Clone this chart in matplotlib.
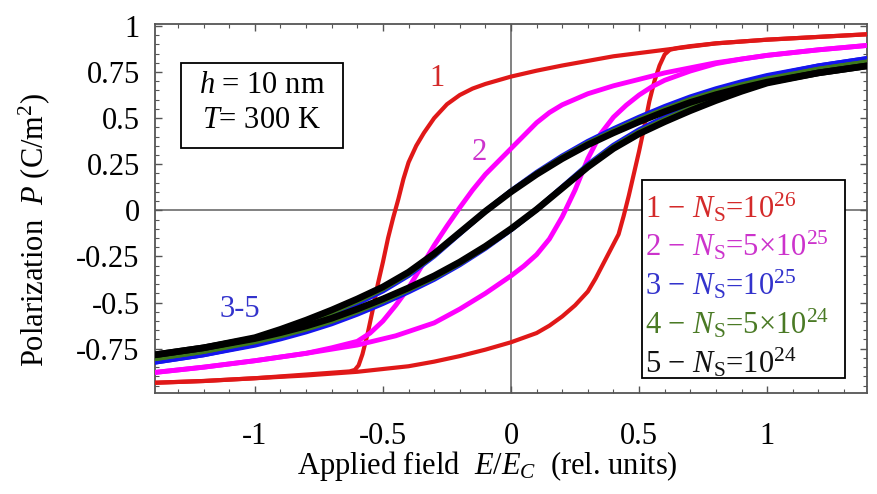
import matplotlib
matplotlib.use("Agg")
import matplotlib.pyplot as plt
from matplotlib.patches import Rectangle
from matplotlib.ticker import MultipleLocator

plt.rcParams['font.family'] = ['Liberation Serif', 'DejaVu Serif']
plt.rcParams['mathtext.fontset'] = 'custom'
plt.rcParams['mathtext.rm'] = 'Liberation Serif'
plt.rcParams['mathtext.it'] = 'Liberation Serif:italic'
plt.rcParams['axes.unicode_minus'] = False

# curve 1 (red): ascending branch (up) and descending branch (dn)
red_up_E = [-1.4, -1.2, -1.0, -0.8, -0.6, -0.4, -0.3, -0.2, -0.1, 0.0, 0.05, 0.1, 0.15,
            0.2, 0.25, 0.3, 0.33, 0.36, 0.39, 0.42, 0.44, 0.46, 0.48, 0.50, 0.52, 0.54,
            0.56, 0.58, 0.60, 0.62, 0.65, 0.7, 0.8, 1.0, 1.2, 1.4]
red_up_P = [-0.935, -0.925, -0.91, -0.895, -0.875, -0.845, -0.82, -0.79, -0.755, -0.715,
            -0.69, -0.665, -0.625, -0.575, -0.515, -0.44, -0.37, -0.29, -0.21, -0.13,
            -0.03, 0.08, 0.2, 0.32, 0.45, 0.59, 0.70, 0.785, 0.845, 0.87, 0.88, 0.89,
            0.905, 0.925, 0.94, 0.955]
red_dn_E = [1.4, 1.2, 1.0, 0.8, 0.6, 0.4, 0.2, 0.1, 0.0, -0.05, -0.1, -0.15, -0.2, -0.25,
            -0.3, -0.34, -0.37, -0.40, -0.42, -0.44, -0.46, -0.48, -0.50, -0.52, -0.54,
            -0.56, -0.58, -0.595, -0.61, -0.63, -0.7, -0.8, -1.0, -1.2, -1.4]
red_dn_P = [0.955, 0.94, 0.925, 0.905, 0.87, 0.835, 0.785, 0.757, 0.725, 0.705, 0.685,
            0.66, 0.625, 0.575, 0.50, 0.42, 0.35, 0.26, 0.17, 0.06, -0.04, -0.15, -0.28,
            -0.40, -0.54, -0.67, -0.78, -0.84, -0.865, -0.873, -0.88, -0.89, -0.91,
            -0.925, -0.935]

# curve 2 (magenta)
mag_up_E = [-1.4, -1.2, -1.0, -0.8, -0.6, -0.45, -0.3, -0.2, -0.1, 0.0, 0.05, 0.1, 0.15,
            0.2, 0.25, 0.3, 0.35, 0.4, 0.45, 0.5, 0.55, 0.6, 0.7, 0.8, 0.9, 1.0, 1.2, 1.4]
mag_up_P = [-0.88, -0.85, -0.815, -0.775, -0.73, -0.68, -0.61, -0.535, -0.45, -0.355,
            -0.302, -0.24, -0.155, -0.035, 0.11, 0.28, 0.415, 0.505, 0.57, 0.625, 0.67,
            0.705, 0.755, 0.795, 0.82, 0.84, 0.87, 0.895]
mag_dn_E = [1.4, 1.2, 1.0, 0.8, 0.6, 0.5, 0.4, 0.3, 0.2, 0.15, 0.1, 0.05, 0.0, -0.05,
            -0.1, -0.15, -0.2, -0.25, -0.3, -0.35, -0.4, -0.45, -0.5, -0.55, -0.6, -0.7,
            -0.8, -1.0, -1.2, -1.4]
mag_dn_P = [0.895, 0.87, 0.84, 0.80, 0.745, 0.71, 0.675, 0.632, 0.572, 0.53, 0.475, 0.405,
            0.335, 0.265, 0.195, 0.11, 0.015, -0.085, -0.19, -0.305, -0.42, -0.515, -0.6,
            -0.665, -0.71, -0.745, -0.775, -0.815, -0.85, -0.88]

# curves 3-5 share one field grid
E35 = [-1.4, -1.2, -1.0, -0.9, -0.8, -0.7, -0.6, -0.5, -0.4, -0.3, -0.2, -0.1, 0.0, 0.1,
       0.2, 0.3, 0.4, 0.5, 0.6, 0.7, 0.8, 0.9, 1.0, 1.2, 1.4]
blue_up = [-0.824, -0.782, -0.73, -0.696, -0.658, -0.614, -0.562, -0.504, -0.441, -0.373,
           -0.294, -0.205, -0.105, 0.005, 0.126, 0.247, 0.352, 0.436, 0.504, 0.567, 0.625,
           0.677, 0.725, 0.782, 0.824]
blue_dn = [-0.824, -0.782, -0.725, -0.677, -0.625, -0.567, -0.504, -0.436, -0.352, -0.247,
           -0.126, -0.005, 0.105, 0.205, 0.294, 0.373, 0.441, 0.504, 0.562, 0.614, 0.658,
           0.696, 0.73, 0.782, 0.824]
green_up = [-0.805, -0.764, -0.712, -0.68, -0.643, -0.6, -0.548, -0.492, -0.43, -0.364,
            -0.287, -0.2, -0.103, 0.005, 0.123, 0.241, 0.343, 0.425, 0.492, 0.553, 0.61,
            0.661, 0.707, 0.764, 0.805]
green_dn = [-0.805, -0.764, -0.707, -0.661, -0.61, -0.553, -0.492, -0.425, -0.343, -0.241,
            -0.123, -0.005, 0.103, 0.2, 0.287, 0.364, 0.43, 0.492, 0.548, 0.6, 0.643,
            0.68, 0.712, 0.764, 0.805]
black_up = [-0.785, -0.745, -0.695, -0.663, -0.627, -0.585, -0.535, -0.48, -0.42, -0.355,
            -0.28, -0.195, -0.10, 0.005, 0.12, 0.235, 0.335, 0.415, 0.48, 0.54, 0.595,
            0.645, 0.69, 0.745, 0.785]
black_dn = [-0.785, -0.745, -0.69, -0.645, -0.595, -0.54, -0.48, -0.415, -0.335, -0.235,
            -0.12, -0.005, 0.10, 0.195, 0.28, 0.355, 0.42, 0.48, 0.535, 0.585, 0.627,
            0.663, 0.695, 0.745, 0.785]

legend_lines = [r'1 $-$ $N_\mathrm{S}$=10$^{26}$',
                r'2 $-$ $N_\mathrm{S}$=5$\times$10$^{25}$',
                r'3 $-$ $N_\mathrm{S}$=10$^{25}$',
                r'4 $-$ $N_\mathrm{S}$=5$\times$10$^{24}$',
                r'5 $-$ $N_\mathrm{S}$=10$^{24}$']
legend_colors = ['#d42a2a', '#cc33cc', '#3333cc', '#4a7a25', '#111111']

x_ticks = [-1, -0.5, 0, 0.5, 1]
x_labels = ['-1', '-0.5', '0', '0.5', '1']
y_ticks = [-0.75, -0.5, -0.25, 0, 0.25, 0.5, 0.75, 1]
y_labels = ['-0.75', '-0.5', '-0.25', '0', '0.25', '0.5', '0.75', '1']

fs = 22
fig = plt.figure(figsize=(8.78, 4.94), dpi=100)
ax = fig.add_axes([155 / 878, 101 / 494, 712 / 878, 369 / 494])

ax.axhline(0, color='#777777', lw=1.3, zorder=1)
ax.axvline(0, color='#777777', lw=1.3, zorder=1)

ax.plot(red_up_E, red_up_P, color='#e01818', lw=3.0, zorder=3)
ax.plot(red_dn_E, red_dn_P, color='#e01818', lw=3.0, zorder=3)
ax.plot(mag_up_E, mag_up_P, color='#ff00ff', lw=3.5, zorder=3)
ax.plot(mag_dn_E, mag_dn_P, color='#ff00ff', lw=3.5, zorder=3)
ax.plot(E35, blue_up, color='#1515ee', lw=3.8, zorder=4)
ax.plot(E35, blue_dn, color='#1515ee', lw=3.8, zorder=4)
ax.plot(E35, green_up, color='#3f7a1c', lw=3.8, zorder=5)
ax.plot(E35, green_dn, color='#3f7a1c', lw=3.8, zorder=5)
ax.plot(E35, black_up, color='black', lw=4.8, zorder=6)
ax.plot(E35, black_dn, color='black', lw=4.8, zorder=6)

ax.set_xlim(-1.39, 1.39)
ax.set_ylim(-0.99, 1.01)
ax.set_xticks(x_ticks)
ax.set_xticklabels(x_labels, fontsize=fs)
ax.set_yticks(y_ticks)
ax.set_yticklabels(y_labels, fontsize=fs)
ax.xaxis.set_minor_locator(MultipleLocator(0.1))
ax.yaxis.set_minor_locator(MultipleLocator(0.05))
ax.tick_params(which='both', direction='in', top=True, right=True, color='#555555')
ax.tick_params(which='major', length=5, width=1)
ax.tick_params(which='minor', length=3, width=0.8)
ax.tick_params(axis='x', pad=21)
ax.tick_params(axis='y', pad=11)
for s in ax.spines.values():
    s.set_color('#555555')
    s.set_linewidth(1.3)

# parameter box
ax.add_patch(Rectangle((0.0365, 0.664), 0.2275, 0.23, transform=ax.transAxes,
                       facecolor='white', edgecolor='black', lw=1.3, zorder=7))
ax.text(0.150, 0.813, r'$h$ = 10 nm', transform=ax.transAxes, ha='center',
        va='baseline', fontsize=fs, zorder=8)
ax.text(0.150, 0.718, r'$T$= 300 K', transform=ax.transAxes, ha='center',
        va='baseline', fontsize=fs, zorder=8)

# legend box
ax.add_patch(Rectangle((0.684, 0.041), 0.285, 0.536, transform=ax.transAxes,
                       facecolor='white', edgecolor='black', lw=1.3, zorder=7))
for i, (txt, c) in enumerate(zip(legend_lines, legend_colors)):
    yb = (393 - (217 + 38.8 * i)) / 369
    ax.text(0.688, yb, txt, transform=ax.transAxes, ha='left', va='baseline',
            fontsize=fs, color=c, zorder=8)

# curve labels
ax.text(-0.29, 0.715, '1', color='#d42a2a', fontsize=fs, ha='center', va='center')
ax.text(-0.125, 0.315, '2', color='#cc33cc', fontsize=fs, ha='center', va='center')
ax.text(-1.06, -0.54, '3-5', color='#3333cc', fontsize=fs, ha='center', va='center')

fig.text(487 / 878, 1 - 466 / 494, r'Applied field  $E/E_C$  (rel. units)',
         fontsize=fs, ha='center', va='center')
fig.text(34 / 878, 1 - 230 / 494, r'Polarization  $P$ (C/m$^2$)', fontsize=fs,
         ha='center', va='center', rotation=90)

fig.savefig('out.png', dpi=100)
